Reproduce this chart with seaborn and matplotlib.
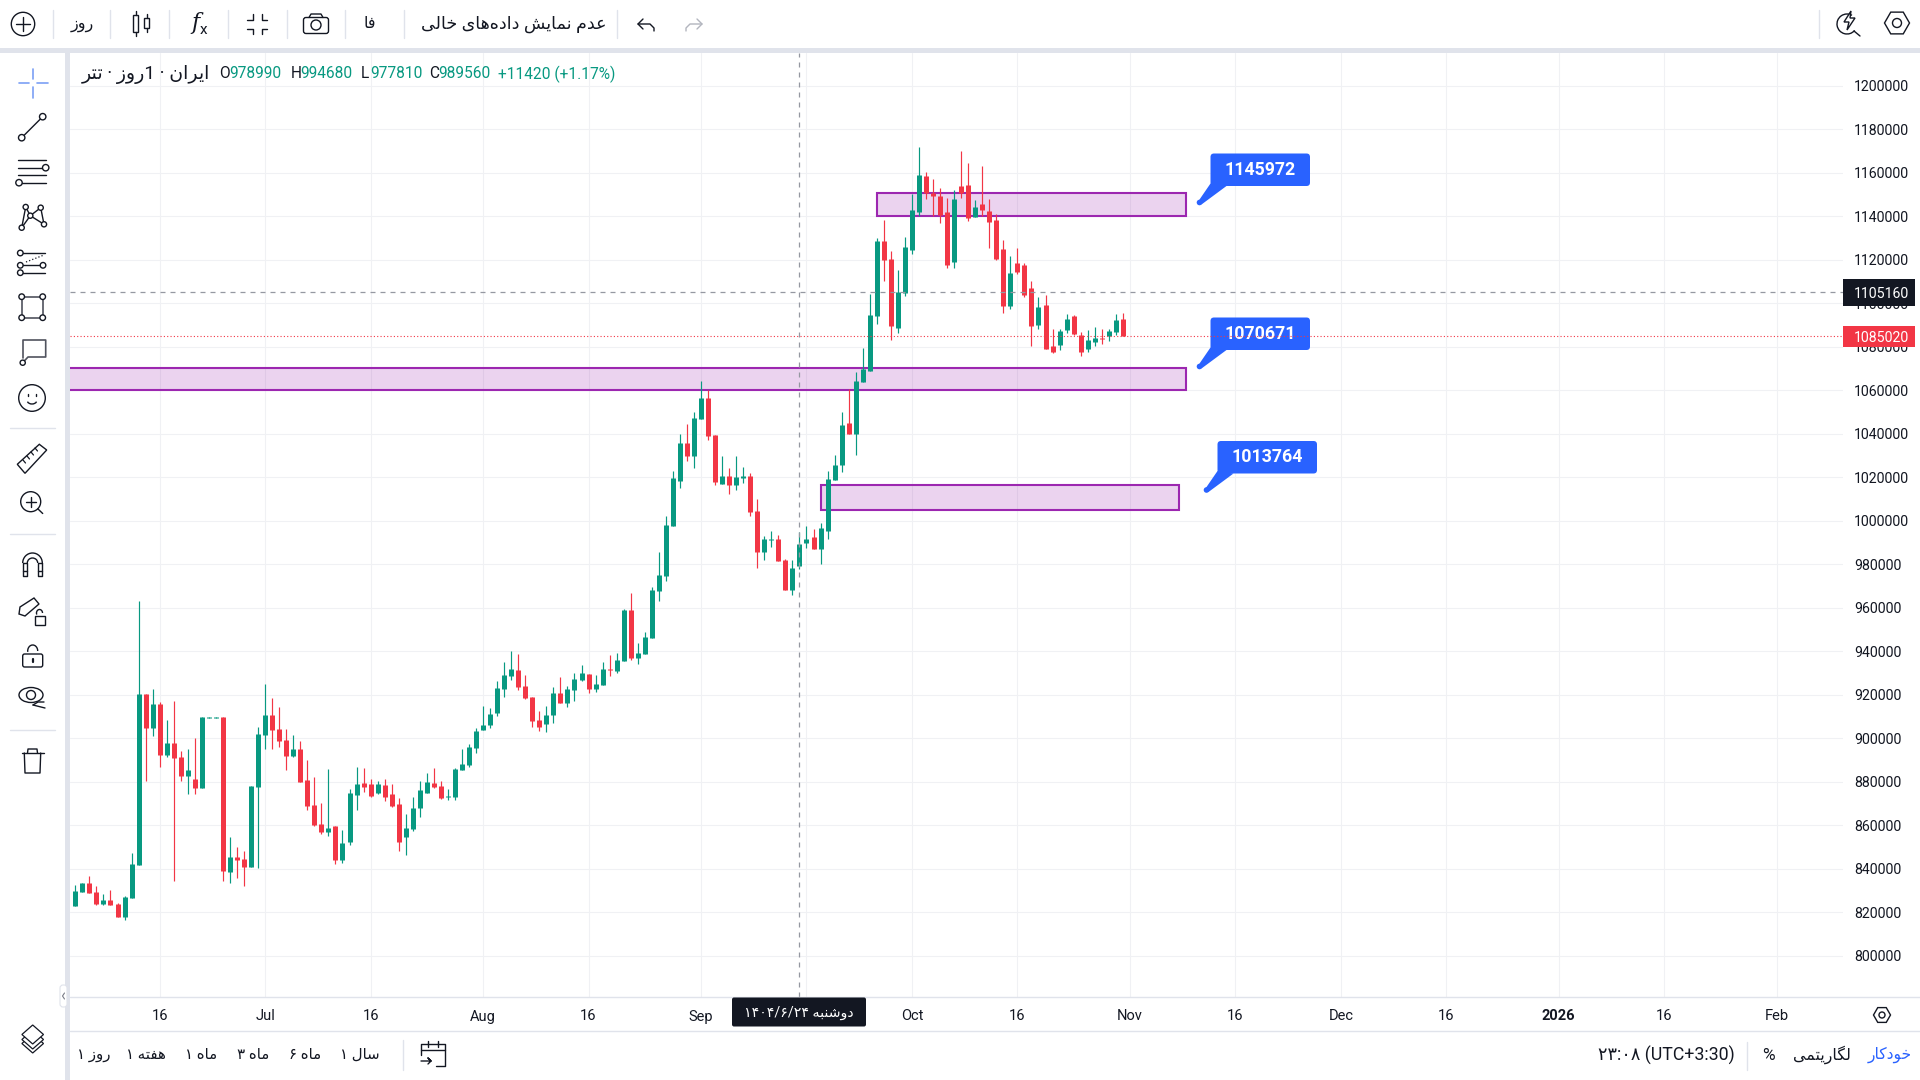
import matplotlib
matplotlib.use('Agg')
import matplotlib.pyplot as plt
import matplotlib.dates as mdates
from matplotlib.patches import Rectangle, FancyBboxPatch, Polygon, Circle, Ellipse, Arc
import pandas as pd
import seaborn as sns

# candles, one per day from 4 Jun 2025
first_day = '2025-06-04'
open_p = [822900, 829300, 833500, 829300, 823800, 825700, 823800, 817800, 826600, 841700,
          920400, 904700, 915800, 892300, 897800, 891400, 882700, 881300, 877100, 909400,
          909400, 909800, 838500, 845400, 844500, 840800, 877600, 901500, 910700, 904300,
          899200, 891900, 895100, 880800, 869300, 860600, 856900, 859700, 844000, 852300,
          873900, 879400, 879000, 874800, 878500, 874400, 869800, 854600, 858300, 868000,
          874800, 879400, 878100, 873000, 873000, 885400, 887700, 895500, 903800, 906100,
          911600, 922700, 928600, 931400, 924000, 919000, 908400, 906600, 910700, 920800,
          916200, 922200, 926800, 929600, 922700, 924500, 931900, 930900, 935500, 959000,
          936900, 938800, 946100, 967700, 974600, 997600, 1018300, 1035800, 1029800, 1046800,
          1056500, 1039500, 1016900, 1020600, 1016500, 1019700, 1020600, 1004500, 985700, 991200,
          991600, 982000, 968200, 978990, 989800, 992600, 987000, 995300, 1018800, 1025700,
          1045000, 1039900, 1063800, 1068900, 1094200, 1128700, 1120400, 1088700, 1104700, 1124500,
          1142000, 1158500, 1150700, 1149300, 1142000, 1119000, 1153900, 1154400, 1139700, 1145700,
          1142400, 1138300, 1125000, 1098800, 1118500, 1117600, 1107000, 1090000, 1099200, 1080400,
          1080800, 1087700, 1094200, 1085400, 1079000, 1082200, 1084100, 1085000, 1086800, 1092800]
high_p = [832500, 833500, 836700, 832100, 828400, 830300, 824300, 827500, 847300, 963100,
          920400, 922700, 916700, 908400, 917100, 894200, 895100, 900100, 909800, 909800,
          909800, 909800, 854600, 850000, 848200, 878100, 905200, 925000, 918500, 914400,
          904300, 901500, 898800, 890000, 882200, 870300, 885900, 859700, 857800, 876700,
          886800, 886300, 881300, 880400, 881300, 879000, 872600, 865200, 873000, 880400,
          884000, 886300, 880400, 876700, 886300, 895100, 897400, 904700, 914800, 913900,
          926300, 935100, 940100, 938800, 929100, 919000, 912600, 914800, 923600, 928200,
          924000, 930000, 933700, 929600, 929100, 935100, 938300, 939200, 959400, 966800,
          943800, 948900, 969600, 985700, 1002200, 1022900, 1039900, 1044500, 1050000, 1064300,
          1060100, 1039500, 1029800, 1024300, 1029800, 1024700, 1022000, 1010000, 993000, 995300,
          993500, 982400, 982000, 994680, 997600, 996200, 999000, 1022900, 1030300, 1050000,
          1060600, 1068400, 1079500, 1104300, 1130000, 1138300, 1124100, 1115300, 1130500, 1150400,
          1171900, 1160400, 1157200, 1153000, 1148400, 1152100, 1170000, 1164500, 1147500, 1163100,
          1148000, 1141100, 1129100, 1121800, 1125400, 1118500, 1110300, 1102900, 1103800, 1088200,
          1088200, 1095100, 1094600, 1086800, 1087700, 1089100, 1088200, 1088200, 1095100, 1095600]
low_p = [822900, 829300, 828900, 823400, 823400, 823400, 817800, 816500, 826600, 841700,
         880400, 901100, 886800, 891400, 834400, 880400, 874400, 874400, 877100, 909400,
         909400, 834400, 833500, 835800, 832100, 840800, 840400, 895100, 895100, 896000,
         885400, 891400, 879900, 867000, 859700, 856000, 855100, 842200, 842700, 850900,
         867000, 875300, 873000, 874400, 871200, 868400, 848200, 846300, 857400, 863800,
         874800, 877100, 872100, 871600, 871600, 885400, 886800, 893200, 903800, 904700,
         910300, 919000, 926800, 922200, 918100, 905200, 903400, 902900, 907000, 916200,
         914400, 917100, 926300, 920800, 921300, 924500, 928600, 930000, 935500, 936000,
         934200, 938800, 946100, 963100, 972300, 997600, 1015100, 1027500, 1024300, 1046800,
         1037200, 1016500, 1016900, 1012300, 1014200, 1017400, 1002200, 978300, 982000, 988000,
         981500, 968200, 965900, 977810, 987500, 987000, 980100, 991600, 1018800, 1022400,
         1039900, 1030300, 1063800, 1068900, 1090500, 1110300, 1083100, 1086400, 1103400, 1122700,
         1140200, 1148000, 1140200, 1136900, 1116200, 1116200, 1148400, 1137900, 1139700, 1140200,
         1125400, 1119900, 1095600, 1097400, 1113500, 1102900, 1080400, 1088200, 1079000, 1077200,
         1078500, 1086400, 1085400, 1075800, 1077600, 1080400, 1081300, 1082700, 1085400, 1085020]
close_p = [829800, 833500, 828900, 823800, 825700, 823400, 817800, 827000, 842200, 920400,
           904700, 915800, 892300, 897800, 890900, 882700, 885400, 877100, 909800, 909800,
           909800, 839000, 845400, 844000, 840800, 878100, 902000, 910700, 903800, 898800,
           891900, 895100, 879900, 868900, 860100, 856900, 858800, 844000, 851900, 874800,
           879000, 877600, 873500, 879000, 873000, 868900, 852300, 858800, 868000, 876200,
           879900, 877600, 872600, 873500, 885900, 888200, 896000, 903400, 906100, 911200,
           923100, 929100, 931900, 923600, 918500, 908000, 905200, 910700, 920800, 916200,
           922700, 927300, 930000, 922700, 925000, 931900, 931500, 936000, 959000, 936900,
           939200, 946600, 968200, 975100, 998100, 1019700, 1035800, 1029800, 1047300, 1056500,
           1039000, 1017800, 1020600, 1016500, 1020100, 1020600, 1004100, 985700, 991600, 991600,
           981500, 968200, 978300, 989560, 991600, 987000, 996700, 1019200, 1025700, 1044100,
           1039900, 1064300, 1069800, 1094600, 1128700, 1119900, 1089600, 1105200, 1125900, 1142900,
           1159000, 1150700, 1149300, 1140600, 1117600, 1148000, 1150700, 1139200, 1144300, 1142900,
           1137400, 1120400, 1098800, 1113900, 1114400, 1103800, 1089600, 1098300, 1079000, 1077600,
           1087300, 1092800, 1085900, 1077600, 1083100, 1084100, 1083600, 1087300, 1092300, 1085020]

# purple zones
zone_top = [1150700, 1070100, 1016300]
zone_bottom = [1140150, 1060150, 1005100]
zone_start = ['2025-09-26', '2025-04-01', '2025-09-18']
zone_end = ['2025-11-09', '2025-11-09', '2025-11-08']
callout_text = ['1145972', '1070671', '1013764']

price_ticks = list(range(800000, 1200001, 20000))
date_ticks = ['2025-06-16', '2025-07-01', '2025-07-16', '2025-08-01', '2025-08-16', '2025-09-01',
              '2025-09-16', '2025-10-01', '2025-10-16', '2025-11-01', '2025-11-16', '2025-12-01',
              '2025-12-16', '2026-01-01', '2026-01-16', '2026-02-01']
# the 16 Sep label sits behind the crosshair date tag, so it stays blank
date_labels = ['16', 'Jul', '16', 'Aug', '16', 'Sep', '', 'Oct', '16', 'Nov', '16', 'Dec',
               '16', '2026', '16', 'Feb']
cross_day = '2025-09-15'
cross_price = 1105160
last_price = 1085020
ohlc_parts = [('O', '978990'), ('H', '994680'), ('L', '977810'), ('C', '989560')]

UP = '#089981'
DOWN = '#F23645'
INK = '#131722'
BAND = '#E0E3EB'
BLUE = '#2962FF'
PURPLE = '#9C27B0'
GRID = '#F0F1F4'


# matplotlib does not join Arabic letters, so pick the joined forms and flip the word
FORMS = {'ا': (0xFE8D, 0xFE8E), 'د': (0xFEA9, 0xFEAA), 'ر': (0xFEAD, 0xFEAE), 'ز': (0xFEAF, 0xFEB0),
         'و': (0xFEED, 0xFEEE), 'ب': (0xFE8F, 0xFE90, 0xFE91, 0xFE92), 'ت': (0xFE95, 0xFE96, 0xFE97, 0xFE98),
         'خ': (0xFEA5, 0xFEA6, 0xFEA7, 0xFEA8), 'س': (0xFEB1, 0xFEB2, 0xFEB3, 0xFEB4),
         'ش': (0xFEB5, 0xFEB6, 0xFEB7, 0xFEB8), 'ع': (0xFEC9, 0xFECA, 0xFECB, 0xFECC),
         'ف': (0xFED1, 0xFED2, 0xFED3, 0xFED4), 'ک': (0xFB8E, 0xFB8F, 0xFB90, 0xFB91),
         'گ': (0xFB92, 0xFB93, 0xFB94, 0xFB95), 'ل': (0xFEDD, 0xFEDE, 0xFEDF, 0xFEE0),
         'م': (0xFEE1, 0xFEE2, 0xFEE3, 0xFEE4), 'ن': (0xFEE5, 0xFEE6, 0xFEE7, 0xFEE8),
         'ه': (0xFEE9, 0xFEEA, 0xFEEB, 0xFEEC), 'ی': (0xFBFC, 0xFBFD, 0xFBFE, 0xFBFF)}


def fa(word):
    out = []
    for i, ch in enumerate(word):
        if ch == '\u200c':
            continue
        if ch not in FORMS:
            out.append(ch)
            continue
        prev = word[i - 1] if i > 0 else ''
        nxt = word[i + 1] if i + 1 < len(word) else ''
        from_prev = prev in FORMS and len(FORMS[prev]) == 4
        to_next = nxt in FORMS and len(FORMS[ch]) == 4
        out.append(chr(FORMS[ch][int(from_prev) + 2 * int(to_next)]))
    return ''.join(reversed(out))


sns.set_style('white')
plt.rcParams['font.family'] = ['Roboto', 'DejaVu Sans']

days = pd.date_range(first_day, periods=len(open_p))
df = pd.DataFrame({'day': days, 'open': open_p, 'high': high_p, 'low': low_p, 'close': close_p})
df['side'] = ['up' if c >= o else 'down' for o, c in zip(open_p, close_p)]
wicks = df.melt(id_vars=['day', 'side'], value_vars=['low', 'high'], value_name='price')
bodies = df.melt(id_vars=['day', 'side'], value_vars=['open', 'close'], value_name='price')
colors = {'up': UP, 'down': DOWN}

fig = plt.figure(figsize=(19.2, 10.8), dpi=100, facecolor='white')
ax = fig.add_axes([70 / 1920, 83 / 1080, 1773 / 1920, 944 / 1080])

sns.lineplot(data=wicks, x='day', y='price', hue='side', units='day', estimator=None,
             palette=colors, linewidth=0.85, legend=False, ax=ax, zorder=3,
             solid_capstyle='butt')
sns.lineplot(data=bodies, x='day', y='price', hue='side', units='day', estimator=None,
             palette=colors, linewidth=3.6, legend=False, ax=ax, zorder=4,
             solid_capstyle='butt')

for top, bottom, start, end in zip(zone_top, zone_bottom, zone_start, zone_end):
    x0 = mdates.date2num(pd.Timestamp(start))
    x1 = mdates.date2num(pd.Timestamp(end))
    ax.add_patch(Rectangle((x0, bottom), x1 - x0, top - bottom, facecolor=(0.612, 0.153, 0.69, 0.2),
                           edgecolor=PURPLE, linewidth=1.5, zorder=2))

ax.set_xlim(pd.Timestamp(first_day) - pd.Timedelta(days=0.76),
            pd.Timestamp(first_day) + pd.Timedelta(days=251.44))
ax.set_ylim(781057, 1215080)
ax.set_xticks([pd.Timestamp(d) for d in date_ticks])
ax.set_xticklabels(date_labels)
ax.set_yticks(price_ticks)
ax.set_yticklabels([str(p) for p in price_ticks])
ax.yaxis.tick_right()
ax.tick_params(axis='x', length=0, pad=9, labelsize=10.5, labelcolor=INK)
ax.tick_params(axis='y', length=0, pad=8, labelsize=10.2, labelcolor=INK, right=False)
ax.set_xlabel('')
ax.set_ylabel('')
ax.grid(True, color=GRID, linewidth=0.8)
ax.set_axisbelow(True)
for spine in ax.spines.values():
    spine.set_visible(False)
ax.get_xticklabels()[date_labels.index('2026')].set_fontweight('bold')

ax.axvline(pd.Timestamp(cross_day), color='#9598A1', linewidth=0.9, dashes=(4, 4), zorder=5)
ax.axhline(cross_price, color='#9598A1', linewidth=0.9, dashes=(4, 4), zorder=5)

# pixel-coordinate layer for the app chrome
ui = fig.add_axes([0, 0, 1, 1], facecolor='none')
ui.set_xlim(0, 1920)
ui.set_ylim(1080, 0)
ui.axis('off')


def line(xs, ys, color=INK, lw=1.0, **kw):
    ui.plot(xs, ys, color=color, linewidth=lw, solid_capstyle='round', **kw)


def ring(x, y, r=3.2, color=INK, lw=1.0):
    ui.add_patch(Circle((x, y), r, facecolor='white', edgecolor=color, linewidth=lw, zorder=6))


def hexagon(x, y, r, inner):
    pts = [(x - r, y), (x - r / 2, y - r * 0.87), (x + r / 2, y - r * 0.87),
           (x + r, y), (x + r / 2, y + r * 0.87), (x - r / 2, y + r * 0.87)]
    ui.add_patch(Polygon(pts, fill=False, edgecolor=INK, linewidth=1.0))
    ui.add_patch(Circle((x, y), inner, fill=False, edgecolor=INK, linewidth=1.0))


def label(x, y, s, size=10.5, color=INK, ha='center', **kw):
    ui.text(x, y, s, fontsize=size, color=color, ha=ha, va='center', **kw)


# frame bands
ui.add_patch(Rectangle((0, 48), 1920, 5, color=BAND, lw=0))
ui.add_patch(Rectangle((65, 53), 5, 1027, color=BAND, lw=0))
line([70, 1920], [997, 997], BAND, 1.0)
line([70, 1920], [1031, 1031], BAND, 1.0)
ui.add_patch(FancyBboxPatch((60, 985), 7, 22, boxstyle='round,pad=0,rounding_size=3',
                            facecolor='white', edgecolor=BAND, linewidth=0.8))
line([64.5, 62.5, 64.5], [993, 996, 999], '#787B86', 0.8)

# callouts, the red last-price line goes over them
for (bx, by, tx, ty), s in zip([(1210.5, 153.5, 1199.5, 202.5), (1210.5, 317.5, 1199.5, 366.5),
                                (1217.5, 441, 1206.5, 490)], callout_text):
    ui.add_patch(Polygon([(bx, by + 30), (bx + 16, by + 32.5), (tx + 2, ty + 2), (tx - 1, ty - 1.5)],
                         color=BLUE, lw=0, zorder=7))
    ui.add_patch(Circle((tx, ty), 2.8, color=BLUE, lw=0, zorder=7))
    ui.add_patch(FancyBboxPatch((bx, by), 99.5, 32.5, boxstyle='round,pad=0,rounding_size=3.5',
                                color=BLUE, lw=0, zorder=7))
    ui.text(bx + 50, by + 16.5, s, color='white', fontsize=12.8, fontweight='bold', ha='center',
            va='center', zorder=8)
ui.plot([0, 1], [last_price, last_price], transform=ax.get_yaxis_transform(), color=DOWN,
        linewidth=0.8, dashes=(1, 2), zorder=9)

# price tags on the axis
ui.add_patch(Rectangle((1843, 279), 72, 26.7, color=INK, lw=0, zorder=7))
label(1881, 293.5, str(cross_price), size=10.2, color='white', zorder=8)
ui.add_patch(Rectangle((1843, 326), 72, 21, color=DOWN, lw=0, zorder=7))
label(1881, 337.5, str(last_price), size=10.2, color='white', zorder=8)
ui.add_patch(FancyBboxPatch((732, 997.5), 134, 29, boxstyle='round,pad=0,rounding_size=2',
                            color=INK, lw=0, zorder=7))
label(799, 1013, '۱۴۰۴/۶/۲۴ ' + fa('دوشنبه'), size=10.2, color='white', zorder=8)
hexagon(1882, 1015, 8.5, 3)

# header with the OHLC values
label(82, 74, fa('تتر') + ' · ' + fa('روز') + '1 · ' + fa('ایران'), size=13.6, ha='left')
for (letter, value), x in zip(ohlc_parts, [219.5, 290.5, 361, 429]):
    label(x, 74, letter, size=11.2, ha='left')
    label(x + 9.5, 74, value, size=11.2, color=UP, ha='left')
label(498.5, 74, '+11420 (+1.17%)', size=11.2, color=UP, ha='left')

# top toolbar
for x in [53, 110, 169, 228, 287, 345, 404, 617]:
    line([x, x], [10, 38], BAND, 1.0)
line([1819, 1819], [10, 38], BAND, 1.0)
ui.add_patch(Circle((23, 24), 11.7, fill=False, edgecolor=INK, linewidth=1.0))
line([16, 30], [24, 24])
line([23, 23], [17, 31])
label(82, 25, fa('روز'), size=11.5)
for x, w, y0, y1, w0, w1 in [(133, 5, 15, 32, 11, 36), (144, 5, 18, 28, 14, 32)]:
    ui.add_patch(Rectangle((x, y0), w, y1 - y0, fill=False, edgecolor=INK, linewidth=1.0))
    line([x + w / 2, x + w / 2], [w0, y0])
    line([x + w / 2, x + w / 2], [y1, w1])
ui.text(195, 23, 'f', fontsize=16, color=INK, fontstyle='italic', ha='center', va='center', family='DejaVu Serif')
ui.text(203, 30, 'x', fontsize=11, color=INK, ha='center', va='center')
for sx, sy in [(-1, -1), (1, -1), (-1, 1), (1, 1)]:
    line([257 + sx * 10, 257 + sx * 4.5, 257 + sx * 4.5], [24 + sy * 4.5, 24 + sy * 4.5, 24 + sy * 10])
ui.add_patch(FancyBboxPatch((303.5, 17.5), 25, 16, boxstyle='round,pad=0,rounding_size=2.5',
                            fill=False, edgecolor=INK, linewidth=1.0))
line([309, 311, 321, 323], [17.5, 14, 14, 17.5])
ui.add_patch(Circle((316, 25), 5, fill=False, edgecolor=INK, linewidth=1.0))
label(369.5, 23, fa('فا'), size=11.5)
label(514, 24.5, fa('عدم نمایش داده\u200cهای خالی'), size=12.6)
for x0, x1, c in [(638, 654, INK), (702, 686, '#B2B5BE')]:
    d = 1 if x1 > x0 else -1
    line([x0 + d * 5, x0, x0 + d * 5], [19, 24, 29], c)
    line([x0, x1 - d * 4, x1, x1], [24, 24, 28, 31], c)
hexagon(1897, 23, 12.5, 4.5)
ui.add_patch(Arc((1847, 24), 20, 20, theta1=40, theta2=300, edgecolor=INK, linewidth=1.0))
line([1854, 1860], [31, 36])
ui.add_patch(Polygon([(1851, 11), (1844, 22), (1849, 22), (1847, 30), (1855, 18), (1850, 18)],
                     facecolor='white', edgecolor=INK, linewidth=1.0))

# left drawing tools
line([18.5, 29], [83, 83], '#7BA0F5', 1.2)
line([37, 47.5], [83, 83], '#7BA0F5', 1.2)
line([33, 33], [69, 79], '#7BA0F5', 1.2)
line([33, 33], [87, 97.5], '#7BA0F5', 1.2)
line([21.7, 42.7], [137.7, 116.7])
ring(21.7, 137.7)
ring(42.7, 116.7)
for y, cx in [(160, None), (167.7, 45.7), (175.3, None), (182.7, 19)]:
    line([18, 46], [y, y])
    if cx:
        ring(cx, y)
net = [(21.7, 227.7), (25.7, 207), (30.3, 215.7), (40.7, 207.7), (44, 224.3), (30.3, 215.7), (21.7, 227.7)]
line([p[0] for p in net], [p[1] for p in net])
for p in net[:5]:
    ring(p[0], p[1], 2.6)
line([20, 45], [253, 253])
line([20, 43], [265.3, 265.3])
line([20, 45], [272.7, 272.7])
line([26, 44], [262, 255], lw=0.9, linestyle=':')
for x, y in [(20.3, 253), (20.3, 265.3), (43, 265.3), (20.3, 272.7)]:
    ring(x, y, 2.8)
ui.add_patch(Rectangle((21.7, 296.7), 21, 21, fill=False, edgecolor='#50535E', linewidth=1.2))
for x, y in [(21.7, 296.7), (42.7, 296.7), (21.7, 317.7), (42.7, 317.7)]:
    ring(x, y, 2.8)
line([23, 23, 45.7, 45.7, 28, 22.7], [358, 340, 340, 357, 357, 362.7], '#50535E', 1.2)
ring(22.7, 362.7, 2.6)
ui.add_patch(Circle((32, 398), 13.3, fill=False, edgecolor=INK, linewidth=1.0))
line([28, 28], [394, 395.5])
line([36, 36], [394, 395.5])
ui.add_patch(Arc((32, 400), 10, 8, theta1=20, theta2=160, edgecolor=INK, linewidth=1.0))
for y in [428, 534, 730]:
    line([10, 55], [y, y], BAND, 1.0)
ui.add_patch(Polygon([(17.3, 464.3), (25, 473.3), (46.7, 450), (39.3, 444.3)], fill=False,
                     edgecolor=INK, linewidth=1.0))
for x, y in [(23, 460), (27, 456), (31, 452), (35, 448)]:
    line([x, x + 2.5], [y, y + 3], lw=0.9)
ui.add_patch(Circle((30.7, 501.7), 10, fill=False, edgecolor=INK, linewidth=1.0))
line([37.7, 42.7], [508.7, 513.5])
line([25.7, 35.7], [501.7, 501.7])
line([30.7, 30.7], [496.7, 506.7])
line([22.7, 22.7, 27.3, 27.3, 22.7], [563, 576, 576, 563, 563])
line([42.3, 42.3, 37.7, 37.7, 42.3], [563, 576, 576, 563, 563])
line([22.7, 27.3], [571, 571])
line([37.7, 42.3], [571, 571])
ui.add_patch(Arc((32.5, 563), 19.6, 20, theta1=180, theta2=360, edgecolor=INK, linewidth=1.0))
ui.add_patch(Arc((32.5, 563), 10.4, 10, theta1=180, theta2=360, edgecolor=INK, linewidth=1.0))
ui.add_patch(Polygon([(19, 614), (20, 607), (34, 598), (39, 604), (25, 616)], fill=False,
                     edgecolor=INK, linewidth=1.0))
ui.add_patch(Rectangle((34.5, 616), 10, 9, fill=False, edgecolor=INK, linewidth=1.0))
ui.add_patch(Arc((39.5, 613), 6, 7, theta1=150, theta2=360, edgecolor=INK, linewidth=1.0))
ui.add_patch(FancyBboxPatch((22.7, 654), 20, 13, boxstyle='round,pad=0,rounding_size=2',
                            fill=False, edgecolor=INK, linewidth=1.0))
ui.add_patch(Arc((32.7, 651), 10, 12, theta1=170, theta2=360, edgecolor=INK, linewidth=1.0))
line([32.7, 32.7], [659, 662], lw=1.6)
ui.add_patch(Ellipse((31, 695), 24, 15, fill=False, edgecolor=INK, linewidth=1.0))
ui.add_patch(Circle((31, 695), 4.5, fill=False, edgecolor=INK, linewidth=1.0))
line([33, 37, 45], [705, 706, 708])
line([33, 38, 44], [705, 702, 702])
line([21.5, 43.5], [753, 753])
line([27.5, 28, 37, 37.5], [753, 749, 749, 753])
line([24.3, 25, 40, 40.7], [753, 773, 773, 753])
for dy in [0, 5, 9]:
    ui.add_patch(Polygon([(32.7, 1025 + dy), (43.5, 1034.5 + dy), (32.7, 1044 + dy), (21.9, 1034.5 + dy)],
                         facecolor='white', edgecolor=INK, linewidth=0.9, zorder=6 - dy))

# bottom bar
for x, s in [(94, '۱ ' + fa('روز')), (146, '۱ ' + fa('هفته')), (201, '۱ ' + fa('ماه')),
             (253.5, '۳ ' + fa('ماه')), (305.5, '۶ ' + fa('ماه')), (360, '۱ ' + fa('سال'))]:
    label(x, 1055, s, size=10.8)
line([403, 403], [1040, 1070], BAND, 1.0)
line([421, 421, 445, 445, 436], [1055, 1044, 1044, 1066, 1066])
line([421, 445], [1050, 1050])
line([428, 428], [1041, 1047])
line([438, 438], [1041, 1047])
line([421, 431, 428, 431, 428], [1061, 1061, 1058, 1061, 1064])
label(1666, 1055, '۲۳:۰۸ (UTC+3:30)', size=12.8)
line([1747, 1747], [1042, 1070], BAND, 1.0)
label(1768.5, 1056, '%', size=12.5)
label(1822, 1055, fa('لگاریتمی'), size=11.4)
label(1890, 1055, fa('خودکار'), size=11.2, color=BLUE)

fig.savefig('out.png', dpi=100)
